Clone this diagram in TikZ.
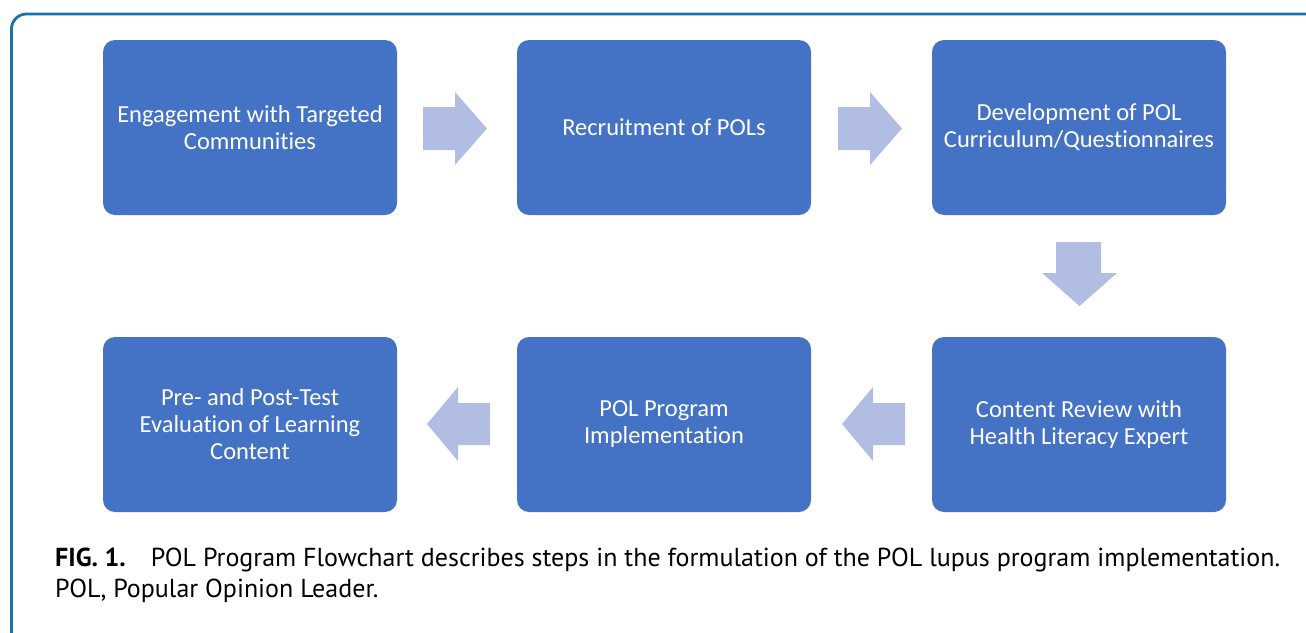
\documentclass[tikz,border=0pt]{standalone}
\usepackage{fontspec}
\setmainfont[Ligatures=NoCommon]{Carlito}
\newfontfamily\capfont{PT Sans}
\definecolor{boxblue}{HTML}{4472C4}
\definecolor{arrowblue}{HTML}{B1BDE2}
\definecolor{framecol}{HTML}{1672A8}
\begin{document}
\begin{tikzpicture}[x=1pt,y=-1pt,
  stepbox/.style={fill=boxblue, rounded corners=12pt, inner sep=0pt, minimum width=294pt, minimum height=175pt,
    text=white, align=center, font=\fontsize{24.5}{27}\selectfont},
  fatarrow/.style={fill=arrowblue, draw=none},
  captext/.style={anchor=base west, inner sep=0pt, font=\capfont\fontsize{26}{31}\selectfont}]
\useasboundingbox (0,0) rectangle (1306,632);
% frame
\draw[framecol, line width=2.8pt] (11.5,650) -- (11.5,29) arc[start angle=180, end angle=270, radius=15] -- (1310,14);
% boxes
\node[stepbox] (a) at (250,127.5) {Engagement with Targeted\\Communities};
\node[stepbox] (b) at (664,127.5) {Recruitment of POLs};
\node[stepbox] (c) at (1079,127.5) {Development of POL\\Curriculum/Questionnaires};
\node[stepbox] (d) at (1079,424.5) {Content Review with\\Health Literacy Expert};
\node[stepbox] (e) at (664,424.5) {POL Program\\Implementation};
\node[stepbox] (f) at (250,424.5) {Pre- and Post-Test\\Evaluation of Learning\\Content};
% arrows
\fill[fatarrow] (423,107) -- (455,107) -- (455,92) -- (487,128.5) -- (455,165) -- (455,150) -- (423,150) -- cycle;
\fill[fatarrow] (838,107) -- (870,107) -- (870,92) -- (902,128.5) -- (870,165) -- (870,150) -- (838,150) -- cycle;
\fill[fatarrow] (1056,242) -- (1101,242) -- (1101,273) -- (1117,273) -- (1079.5,306) -- (1042,273) -- (1056,273) -- cycle;
\fill[fatarrow] (905,403) -- (873,403) -- (873,387) -- (842,424) -- (873,461) -- (873,445) -- (905,445) -- cycle;
\fill[fatarrow] (490,403) -- (458,403) -- (458,387) -- (427,424) -- (458,461) -- (458,445) -- (490,445) -- cycle;
% caption
\node[captext] (cap1) at (55,566)
  {\textbf{FIG. 1.}\hspace{25pt}POL Program Flowchart describes steps in the formulation of the POL lupus program implementation.};
\node[captext] (cap2) at (55,597) {POL, Popular Opinion Leader.};
\end{tikzpicture}
\end{document}
